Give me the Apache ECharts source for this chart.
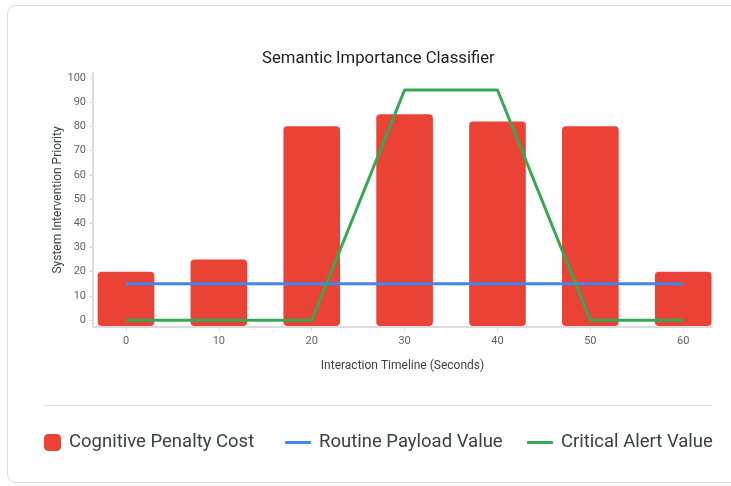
<!DOCTYPE html>
<html>
<head>
<meta charset="utf-8">
<script src="https://cdn.jsdelivr.net/npm/echarts@6/dist/echarts.min.js"></script>
<style>
html,body{margin:0;padding:0;background:#fff;}
#chart{width:731px;height:486px;}
</style>
</head>
<body>
<div id="chart"></div>
<script>
const timeSeconds = [0, 10, 20, 30, 40, 50, 60];
const cognitivePenalty = [20, 25, 80, 85, 82, 80, 20];
const routinePayload = [15, 15, 15, 15, 15, 15, 15];
const criticalAlert = [0, 0, 0, 95, 95, 0, 0];
const xTicks = [0, 10, 20, 30, 40, 50, 60];
const yTicks = [0, 10, 20, 30, 40, 50, 60, 70, 80, 90, 100];

const X_MIN = -3.55, X_MAX = 63.1, Y_MIN = -2.8, Y_MAX = 102;
const BAR_W = 6.1;
const FONT = 'Roboto, "Open Sans", sans-serif';
const legendText = { fontSize: 18.5, color: '#3c4043', padding: [0, 0, 0, 3] };

const chart = echarts.init(document.getElementById('chart'));
chart.setOption({
  animation: false,
  textStyle: { fontFamily: FONT },
  graphic: [
    { type: 'rect', shape: { x: 7.5, y: 5.5, width: 800, height: 477, r: 8 },
      style: { fill: 'none', stroke: '#dcdcdc', lineWidth: 1 }, z: -1 },
    { type: 'line', shape: { x1: 44, y1: 405.5, x2: 712, y2: 405.5 },
      style: { stroke: '#dedede', lineWidth: 1 } }
  ],
  title: {
    text: 'Semantic Importance Classifier',
    left: 257, top: 45,
    textStyle: { fontSize: 16.7, fontWeight: 'normal', color: '#202124', fontFamily: FONT }
  },
  legend: [
    { data: [{ name: 'Cognitive Penalty Cost', icon: 'roundRect' }], left: 44, top: 433, padding: 0,
      itemWidth: 17, itemHeight: 17, textStyle: legendText },
    { data: [{ name: 'Routine Payload Value', icon: 'roundRect' }], left: 285, top: 433, padding: 0,
      itemWidth: 26, itemHeight: 3, textStyle: legendText },
    { data: [{ name: 'Critical Alert Value', icon: 'roundRect' }], left: 527, top: 433, padding: 0,
      itemWidth: 26, itemHeight: 3, textStyle: legendText }
  ],
  grid: { left: 93, right: 19, top: 73, bottom: 159 },
  xAxis: {
    type: 'value', min: X_MIN, max: X_MAX,
    name: 'Interaction Timeline (Seconds)', nameLocation: 'middle', nameGap: 33, nameMoveOverlap: false,
    nameTextStyle: { fontSize: 12, color: '#3c4043' },
    axisLine: { show: true, onZero: false, lineStyle: { color: '#dadce0', width: 2 } },
    axisTick: { show: true, customValues: xTicks, length: 4, lineStyle: { color: '#dadce0' } },
    axisLabel: { customValues: xTicks, fontSize: 11, color: '#5f6368', margin: 9 },
    splitLine: { show: false }
  },
  yAxis: {
    type: 'value', min: Y_MIN, max: Y_MAX,
    name: 'System Intervention Priority', nameLocation: 'middle', nameGap: 29, nameMoveOverlap: false,
    nameTextStyle: { fontSize: 12, color: '#3c4043' },
    axisLine: { show: true, onZero: false, lineStyle: { color: '#dadce0', width: 2 } },
    axisTick: { show: true, customValues: yTicks, length: 4, lineStyle: { color: '#dadce0' } },
    axisLabel: { customValues: yTicks, fontSize: 11, color: '#5f6368', margin: 7 },
    splitLine: { show: false }
  },
  series: [
    {
      name: 'Cognitive Penalty Cost', type: 'custom',
      itemStyle: { color: '#EA4335' },
      data: timeSeconds.map((t, i) => [t, cognitivePenalty[i]]),
      renderItem: function (params, api) {
        const x = api.value(0), y = api.value(1);
        const top = api.coord([x, y]);
        const bottom = api.coord([x, Y_MIN]);
        const w = api.size([BAR_W, 0])[0];
        return {
          type: 'rect',
          shape: { x: top[0] - w / 2, y: top[1], width: w, height: bottom[1] - top[1] - 1, r: 4 },
          style: api.style({ fill: '#EA4335' })
        };
      },
      z: 1
    },
    {
      name: 'Routine Payload Value', type: 'line', symbol: 'none',
      data: timeSeconds.map((t, i) => [t, routinePayload[i]]),
      lineStyle: { color: '#4285F4', width: 3 }, itemStyle: { color: '#4285F4' }, z: 3
    },
    {
      name: 'Critical Alert Value', type: 'line', symbol: 'none',
      data: timeSeconds.map((t, i) => [t, criticalAlert[i]]),
      lineStyle: { color: '#34A853', width: 3 }, itemStyle: { color: '#34A853' }, z: 4
    }
  ]
});
</script>
</body>
</html>
